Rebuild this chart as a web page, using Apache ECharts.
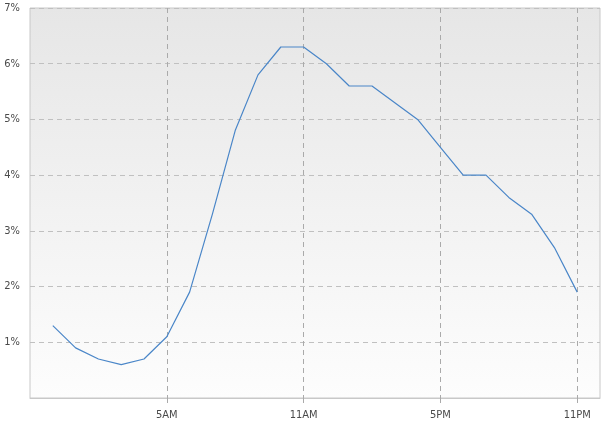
<!DOCTYPE html>
<html>
<head>
<meta charset="utf-8">
<script src="https://cdn.jsdelivr.net/npm/echarts@6/dist/echarts.min.js"></script>
<style>
  html, body { margin: 0; padding: 0; background: #fff; }
  #chart { width: 607px; height: 429px; }
</style>
</head>
<body>
<div id="chart"></div>
<script>
// hour of day (0 = midnight)
var hours = [0, 1, 2, 3, 4, 5, 6, 7, 8, 9, 10, 11, 12, 13, 14, 15, 16, 17, 18, 19, 20, 21, 22, 23];
// share per hour, percent
var shares = [1.3, 0.9, 0.7, 0.6, 0.7, 1.1, 1.9, 3.3, 4.8, 5.8, 6.3, 6.3, 6.0, 5.6, 5.6, 5.3, 5.0, 4.5, 4.0, 4.0, 3.6, 3.3, 2.7, 1.9];
// labelled hours on the x axis
var tickHours = [5, 11, 17, 23];
var tickNames = { 5: "5AM", 11: "11AM", 17: "5PM", 23: "11PM" };

var chart = echarts.init(document.getElementById("chart"));

var labelFont = {
  color: "#4a4a4a",
  fontSize: 11,
  fontFamily: "DejaVu Sans Condensed, DejaVu Sans",
};

var option = {
  animation: false,
  grid: {
    left: 30,
    right: 7,
    top: 8,
    bottom: 31,
    show: true,
    borderColor: "#c8c8c8",
    borderWidth: 1,
    // soft grey fade, darker at the top
    backgroundColor: {
      type: "linear",
      x: 0, y: 0, x2: 0, y2: 1,
      colorStops: [
        { offset: 0, color: "#e6e6e6" },
        { offset: 1, color: "#fdfdfd" },
      ],
    },
  },
  xAxis: {
    type: "value",
    min: -1,
    max: 24,
    axisLine: { show: true, lineStyle: { color: "#c8c8c8" } },
    axisTick: {
      show: true,
      customValues: tickHours,
      length: 9,
      lineStyle: { color: "#aaa", type: [5, 4] },
    },
    axisLabel: Object.assign({
      customValues: tickHours,
      margin: 12,
      formatter: function (v) { return tickNames[v] || ""; },
    }, labelFont),
    splitLine: {
      show: true,
      lineStyle: { color: "#aaa", type: [5, 4] },
    },
  },
  yAxis: {
    type: "value",
    min: 0,
    max: 7,
    interval: 1,
    axisLine: { show: false },
    axisTick: { show: false },
    axisLabel: Object.assign({
      margin: 10,
      formatter: function (v) { return v === 0 ? "" : v + "%"; },
    }, labelFont),
    splitLine: {
      show: true,
      lineStyle: { color: "#c0c0c0", type: [5, 4] },
    },
  },
  series: [
    {
      type: "line",
      symbol: "none",
      lineStyle: { color: "#4a86c8", width: 1.2 },
      data: hours.map(function (h, i) { return [h, shares[i]]; }),
    },
  ],
};

chart.setOption(option);
</script>
</body>
</html>
